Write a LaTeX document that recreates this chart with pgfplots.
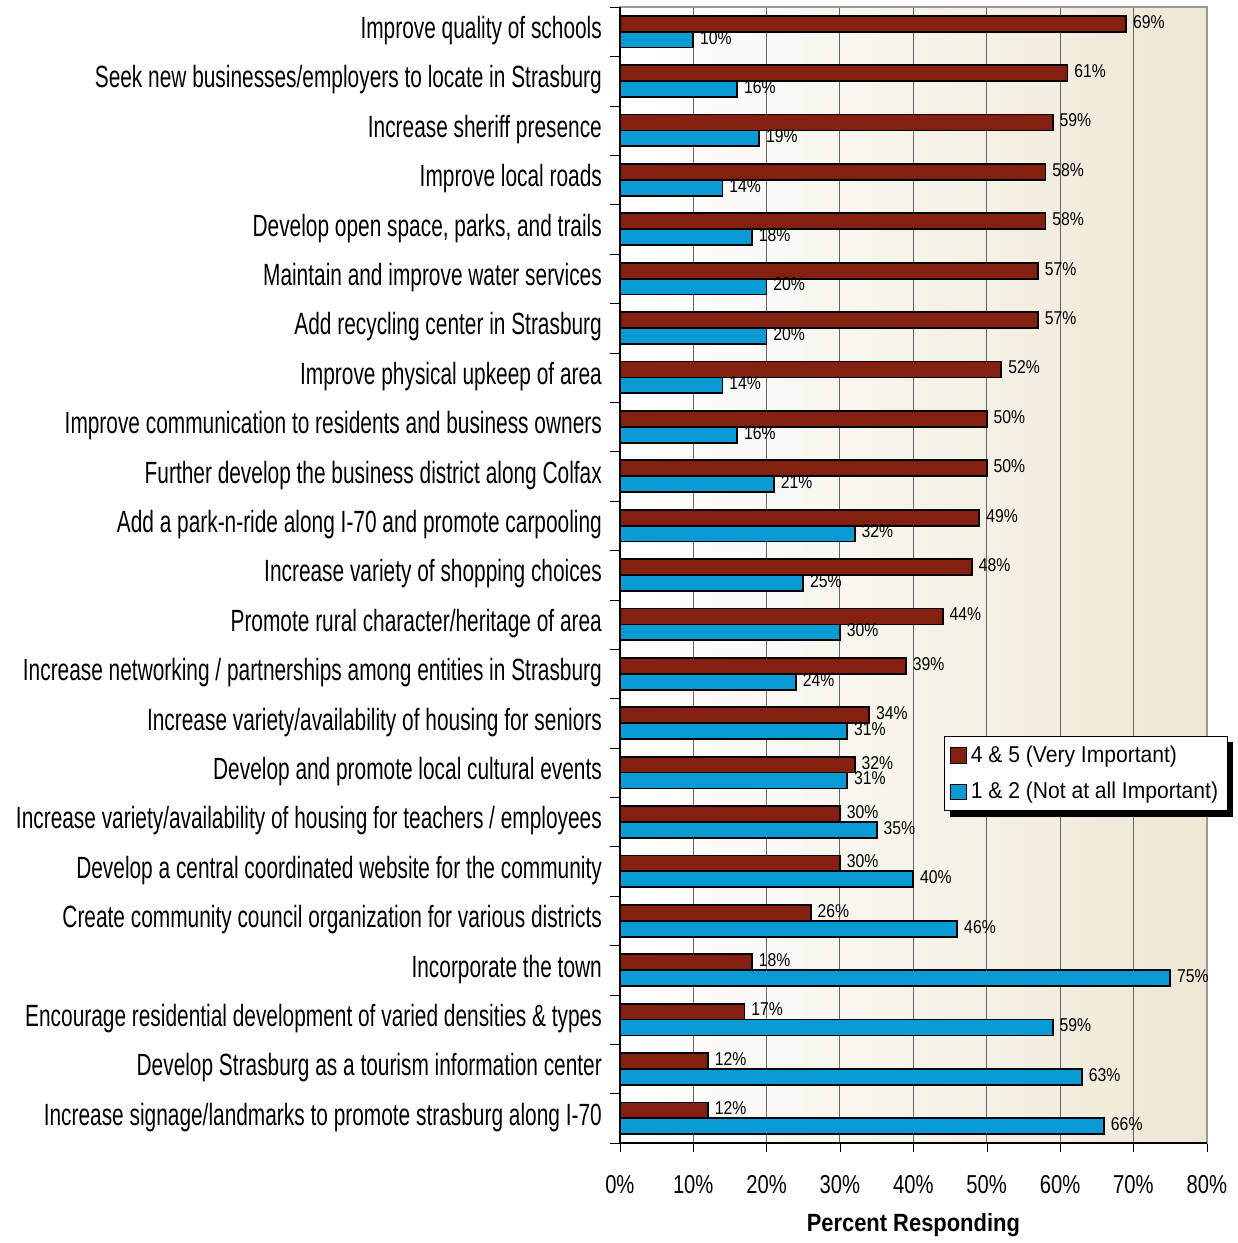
\documentclass[border=0pt]{standalone}
\usepackage{pgfplots}
\pgfplotsset{compat=1.18}
\usepackage{pgfplotstable}
\usepackage{fontspec}
\setmainfont{Liberation Sans}
\newfontfamily\ylabfont{Liberation Sans}[FakeStretch=0.68]
\newfontfamily\xtickfont{Liberation Sans}[FakeStretch=0.78]
\newfontfamily\datafont{Liberation Sans}[FakeStretch=0.85]
\newfontfamily\legfont{Liberation Sans}[FakeStretch=0.92]
\newfontfamily\xlabfont{Liberation Sans}[FakeStretch=0.88]
\definecolor{darkred}{HTML}{84200F}
\definecolor{skyblue}{HTML}{0A9AD4}
\definecolor{bgright}{HTML}{EEE7D4}

\pgfplotstableread{
y red blue
22 69 10
21 61 16
20 59 19
19 58 14
18 58 18
17 57 20
16 57 20
15 52 14
14 50 16
13 50 21
12 49 32
11 48 25
10 44 30
9 39 24
8 34 31
7 32 31
6 30 35
5 30 40
4 26 46
3 18 75
2 17 59
1 12 63
0 12 66
}\data

\begin{document}
\begin{tikzpicture}
\begin{axis}[
  scale only axis,
  width=294.5pt, height=570pt,
  xbar, bar width=8pt,
  clip=false,
  xmin=0, xmax=80,
  ymin=-0.5, ymax=22.5,
  xtick={0,10,...,80},
  xticklabel={\pgfmathprintnumber{\tick}\%},
  /pgf/number format/assume math mode=true,
  ytick={0,...,22},
  yticklabels={
    Increase signage/landmarks to promote strasburg along I-70,
    Develop Strasburg as a tourism information center,
    Encourage residential development of varied densities \& types,
    Incorporate the town,
    Create community council organization for various districts,
    Develop a central coordinated website for the community,
    Increase variety/availability of housing for teachers / employees,
    Develop and promote local cultural events,
    Increase variety/availability of housing for seniors,
    Increase networking / partnerships among entities in Strasburg,
    Promote rural character/heritage of area,
    Increase variety of shopping choices,
    Add a park-n-ride along I-70 and promote carpooling,
    Further develop the business district along Colfax,
    Improve communication to residents and business owners,
    Improve physical upkeep of area,
    Add recycling center in Strasburg,
    Maintain and improve water services,
    {Develop open space, parks, and trails},
    Improve local roads,
    Increase sheriff presence,
    Seek new businesses/employers to locate in Strasburg,
    Improve quality of schools},
  minor ytick={-0.5,0.5,...,22.5},
  major y tick style={draw=none},
  minor y tick style={draw=black},
  tick align=outside,
  xtick pos=lower, ytick pos=left,
  major tick length=4.5pt, minor tick length=5pt,
  x tick style={black},
  yticklabel style={font=\ylabfont\fontsize{15.4}{17}\selectfont, xshift=-1pt, yshift=0.5pt},
  xticklabel style={font=\xtickfont\fontsize{13}{14}\selectfont, yshift=-8pt},
  xlabel={\textbf{Percent Responding}},
  xlabel style={font=\xlabfont\fontsize{12.5}{14}\selectfont, yshift=-3pt},
  xmajorgrids,
  major grid style={black!60, line width=0.5pt},
  axis line style={black!40, line width=0.8pt},
  axis background/.style={left color=white, right color=bgright},
  nodes near coords={\pgfmathprintnumber{\pgfplotspointmeta}\%},
  point meta=x,
  every node near coord/.append style={font=\datafont\fontsize{9.3}{10}\selectfont, inner sep=3pt, yshift=1pt},
  legend style={name=leg, at={(0.553,0.358)}, anchor=north west, draw=black, fill=white,
    font=\legfont\fontsize{11.5}{13}\selectfont, row sep=4.5pt, inner sep=2.5pt},
  legend cell align=left,
  legend image code/.code={\draw[#1, draw=black, line width=0.5pt] (0pt,-3.8pt) rectangle (8pt,3.8pt);},
]
\addplot[fill=darkred, draw=black, line width=0.9pt, bar shift=4pt] table[x=red, y=y] {\data};
\addplot[fill=skyblue, draw=black, line width=0.9pt, bar shift=-4pt] table[x=blue, y=y] {\data};
\legend{4 \& 5 (Very Important), 1 \& 2 (Not at all Important)}
\draw[black, line width=0.8pt] (rel axis cs:0,1) -- (rel axis cs:0,0) -- (rel axis cs:1,0);
\end{axis}
% legend drop shadow (outside the box only)
\fill[black] ([yshift=-3pt]leg.north east) rectangle ([xshift=3pt,yshift=-3pt]leg.south east);
\fill[black] ([xshift=3pt]leg.south west) rectangle ([xshift=3pt,yshift=-3pt]leg.south east);
% page margins as in the reference
\path ([xshift=-311pt,yshift=-49.5pt]current axis.south west) rectangle ([xshift=15.5pt,yshift=3.5pt]current axis.north east);
\end{tikzpicture}
\end{document}
